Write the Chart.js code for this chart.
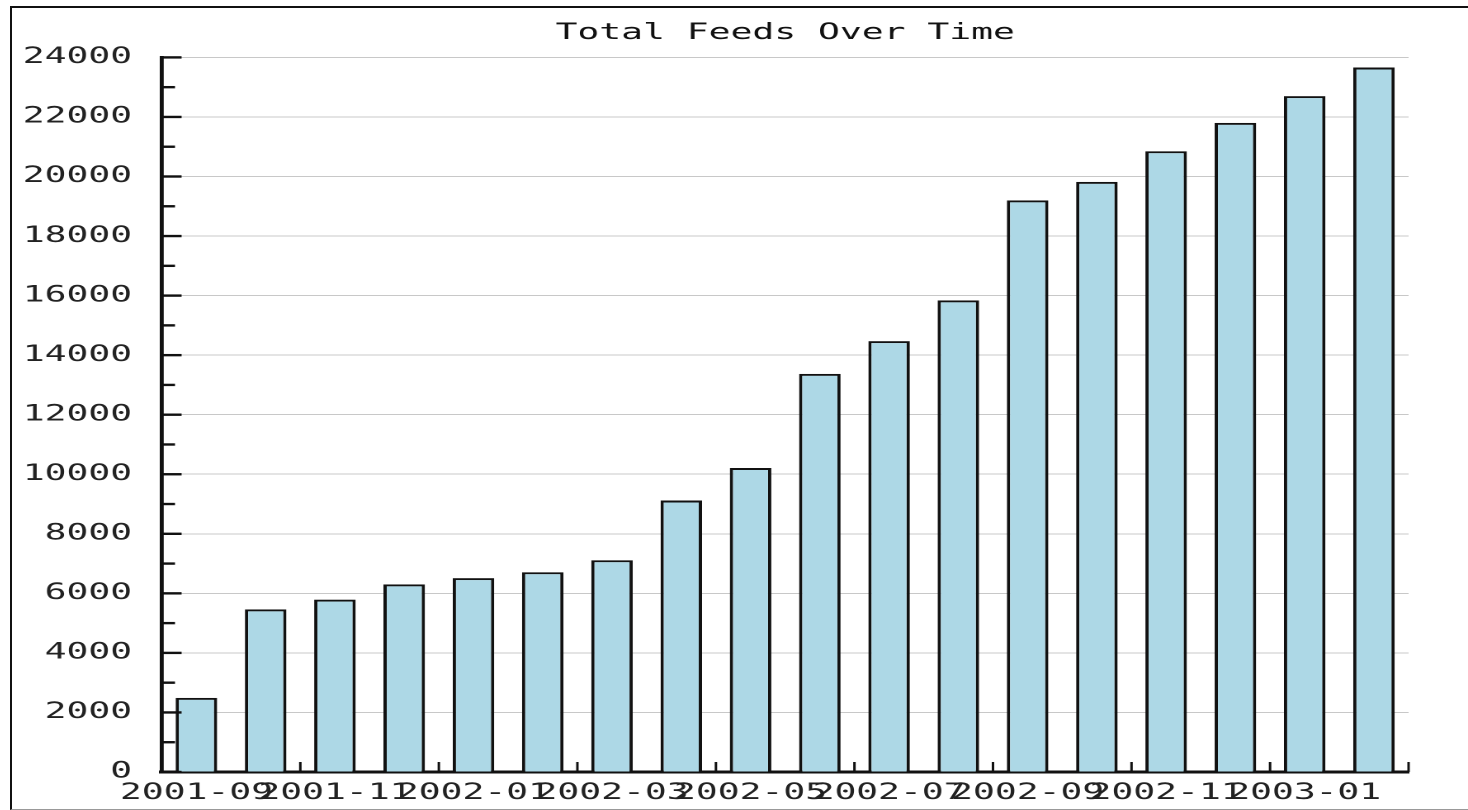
<!DOCTYPE html>
<html>
<head>
<meta charset="utf-8">
<script src="https://cdn.jsdelivr.net/npm/chart.js@4/dist/chart.umd.min.js"></script>
<style>
  body { margin: 0; background: #fff; }
  #frame {
    position: absolute; left: 10px; top: 6px;
    width: 1458px; height: 804px; box-sizing: border-box;
    border-left: 2px solid #111; border-top: 2px solid #111; border-bottom: 1px solid #999;
  }
</style>
</head>
<body>
<div id="frame">
  <!-- drawn narrow, shown stretched sideways like the original picture -->
  <canvas id="feedsChart" width="882" height="801" style="width:1456px;height:801px"></canvas>
</div>
<script>
const months = ['2001-09', '2001-10', '2001-11', '2001-12', '2002-01', '2002-02', '2002-03', '2002-04', '2002-05',
  '2002-06', '2002-07', '2002-08', '2002-09', '2002-10', '2002-11', '2002-12', '2003-01', '2003-02'];
const totalFeeds = [2490, 5460, 5790, 6300, 6510, 6710, 7110, 9120, 10210,
  13370, 14470, 15840, 19200, 19820, 20850, 21800, 22700, 23660];
const yMax = 24000;
const yLabelStep = 2000;
const yMinorStep = 1000;

Chart.defaults.font.family = "'DejaVu Sans Mono', monospace";
Chart.defaults.color = '#222';

// small tick marks drawn inward from the axes, like the old GD charts
const insideTicks = {
  id: 'insideTicks',
  afterDatasetsDraw(chart) {
    const ctx = chart.ctx;
    const x = chart.scales.x;
    const y = chart.scales.y;
    ctx.save();
    ctx.strokeStyle = '#111';
    ctx.lineWidth = 2.4;
    y.ticks.forEach(t => {
      const py = y.getPixelForValue(t.value);
      const len = t.value % yLabelStep === 0 ? 12 : 8;
      ctx.beginPath();
      ctx.moveTo(x.left, py);
      ctx.lineTo(x.left + len, py);
      ctx.stroke();
    });
    ctx.lineWidth = 1.5;
    const step = x.getPixelForValue(1) - x.getPixelForValue(0);
    for (let i = 1; i < months.length; i += 2) {
      const px = x.getPixelForValue(i) + step / 2;
      ctx.beginPath();
      ctx.moveTo(px, y.bottom);
      ctx.lineTo(px, y.bottom - 10);
      ctx.stroke();
    }
    ctx.restore();
  }
};

const ctx = document.getElementById('feedsChart').getContext('2d');
const feedsChart = new Chart(ctx, {
  type: 'bar',
  data: {
    labels: months,
    datasets: [{
      label: 'Total Feeds',
      data: totalFeeds,
      backgroundColor: '#ADD8E6',
      borderColor: '#111',
      borderWidth: 2,
      barPercentage: 0.6,
      categoryPercentage: 1
    }]
  },
  options: {
    responsive: false,
    animation: false,
    devicePixelRatio: 2,
    layout: { padding: { left: -11.5, right: 36, top: 0, bottom: -5.4 } },
    plugins: {
      legend: { display: false },
      tooltip: { enabled: false },
      title: {
        display: true,
        text: 'Total Feeds Over Time',
        fullSize: false,
        color: '#111',
        font: { size: 22, weight: 'normal', lineHeight: 1.2 },
        padding: { top: 12, bottom: 11 }
      }
    },
    scales: {
      x: {
        grid: { display: false, drawTicks: false },
        border: { display: true, color: '#111', width: 3 },
        ticks: {
          autoSkip: false,
          maxRotation: 0,
          minRotation: 0,
          padding: 8,
          font: { size: 22 },
          callback: function (val, i) {
            return i % 2 === 0 ? months[i] : '';
          }
        }
      },
      y: {
        min: 0,
        max: yMax,
        grid: {
          drawTicks: false,
          lineWidth: 1,
          color: c => (c.tick && c.tick.value % yLabelStep === 0) ? '#c8c8c8' : 'rgba(0,0,0,0)'
        },
        border: { display: true, color: '#111', width: 2.4 },
        ticks: {
          stepSize: yMinorStep,
          padding: 18,
          font: { size: 22 },
          callback: function (v) {
            return v % yLabelStep === 0 ? String(v) : '';
          }
        }
      }
    }
  },
  plugins: [insideTicks]
});
</script>
</body>
</html>
